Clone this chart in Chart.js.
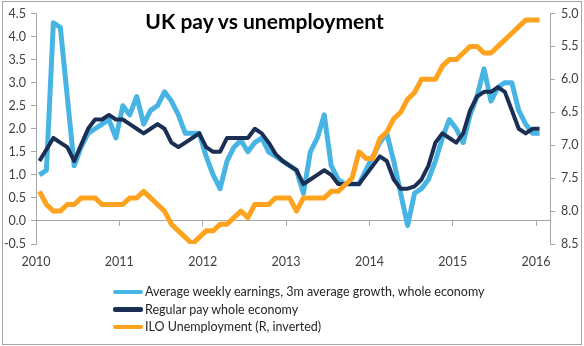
<!DOCTYPE html>
<html>
<head>
<meta charset="utf-8">
<script src="https://cdn.jsdelivr.net/npm/chart.js@4.4.1/dist/chart.umd.min.js"></script>
<style>
  html, body { margin: 0; padding: 0; background: #fff; }
  #wrap { position: relative; width: 584px; height: 346px; overflow: hidden; }
  #frame { position: absolute; left: 2px; top: 1px; width: 578px; height: 342px; border: 1px solid #a6a6a6; pointer-events: none; }
  #title { position: absolute; left: 0; width: 529px; top: 8px; text-align: center; font: bold 21px Lato, sans-serif; color: #000; }
  #legend { position: absolute; left: 113px; top: 283px; font: 12.5px Lato, sans-serif; color: #262626; }
  #legend .row { height: 17.5px; display: flex; align-items: center; white-space: nowrap; }
  #legend .swatch { display: inline-block; width: 30px; height: 4.5px; border-radius: 2px; margin-right: 2px; }
</style>
</head>
<body>
<div id="wrap">
  <canvas id="myChart" width="584" height="346"></canvas>
  <div id="title">UK pay vs unemployment</div>
  <div id="legend"></div>
  <div id="frame"></div>
</div>
<script>
// monthly series, Jan 2010 .. Jan 2016
var startYear = 2010;
var yearTicks = [2010, 2011, 2012, 2013, 2014, 2015, 2016];
var seriesNames = [
    'Average weekly earnings, 3m average growth, whole economy',
    'Regular pay whole economy',
    'ILO Unemployment (R, inverted)'
];
var aweGrowth = [
    1.0, 1.1, 4.3, 4.2, 2.7, 1.2, 1.6, 1.9, 2.0, 2.1, 2.2, 1.8,
    2.5, 2.3, 2.7, 2.1, 2.4, 2.5, 2.8, 2.6, 2.3, 1.9, 1.9, 1.9,
    1.4, 1.0, 0.7, 1.3, 1.6, 1.75, 1.5, 1.7, 1.8, 1.5, 1.4, 1.3,
    1.2, 1.1, 0.6, 1.5, 1.8, 2.3, 1.2, 0.9, 0.8, 0.8, 0.8, 1.1,
    1.4, 1.7, 1.9, 1.3, 0.6, -0.1, 0.6, 0.7, 0.9, 1.3, 1.8, 2.2,
    2.0, 1.7, 2.3, 2.7, 3.3, 2.6, 2.9, 3.0, 3.0, 2.4, 2.1, 1.9,
    1.9
];
var regularPay = [
    1.3, 1.55, 1.8, 1.7, 1.6, 1.3, 1.65, 2.0, 2.2, 2.2, 2.3, 2.2,
    2.2, 2.1, 2.0, 1.9, 2.0, 2.1, 2.0, 1.7, 1.6, 1.7, 1.8, 1.9,
    1.6, 1.5, 1.5, 1.8, 1.8, 1.8, 1.8, 2.0, 1.9, 1.7, 1.45, 1.3,
    1.2, 1.1, 0.8, 0.9, 1.0, 1.1, 1.0, 0.8, 0.8, 0.8, 0.8, 1.0,
    1.2, 1.4, 1.3, 0.9, 0.7, 0.7, 0.75, 0.9, 1.2, 1.7, 1.9, 1.8,
    1.7, 1.9, 2.4, 2.7, 2.8, 2.8, 2.9, 2.8, 2.4, 2.0, 1.9, 2.0,
    2.0
];
var unemployment = [
    7.7, 7.9, 8.0, 8.0, 7.9, 7.9, 7.8, 7.8, 7.8, 7.9, 7.9, 7.9,
    7.9, 7.8, 7.8, 7.7, 7.8, 7.9, 8.0, 8.2, 8.3, 8.4, 8.5, 8.4,
    8.3, 8.3, 8.2, 8.2, 8.1, 8.0, 8.1, 7.9, 7.9, 7.9, 7.8, 7.8,
    7.8, 8.0, 7.8, 7.8, 7.8, 7.8, 7.7, 7.7, 7.6, 7.5, 7.1, 7.2,
    7.2, 6.9, 6.8, 6.6, 6.5, 6.3, 6.2, 6.0, 6.0, 6.0, 5.8, 5.7,
    5.7, 5.6, 5.5, 5.5, 5.6, 5.6, 5.5, 5.4, 5.3, 5.2, 5.1, 5.1,
    5.1
];

// each point sits in the middle of its month
function toPoints(values) {
    return values.map(function (v, i) {
        return { x: startYear + (i + 0.5) / 12, y: v };
    });
}

var axisGrey = '#a6a6a6';
var tickFont = { family: 'Lato', size: 12.5 };
var xMax = 2016 + 2 / 12;

function setYears(scale) {
    scale.ticks = yearTicks.map(function (y) { return { value: y }; });
}

var ctx = document.getElementById('myChart').getContext('2d');
var chart = new Chart(ctx, {
    type: 'line',
    data: {
        datasets: [{
            label: seriesNames[0],
            data: toPoints(aweGrowth),
            borderColor: '#48b4e4',
            borderWidth: 5,
            yAxisID: 'y',
            order: 2
        }, {
            label: seriesNames[1],
            data: toPoints(regularPay),
            borderColor: '#1b2f55',
            borderWidth: 4,
            yAxisID: 'y',
            order: 1
        }, {
            label: seriesNames[2],
            data: toPoints(unemployment),
            borderColor: '#ffa31f',
            borderWidth: 5,
            yAxisID: 'y1',
            order: 0
        }]
    },
    options: {
        responsive: false,
        animation: false,
        events: [],
        layout: { padding: { top: 11, bottom: 72, left: 0, right: 0 } },
        elements: {
            point: { radius: 0 },
            line: { tension: 0, borderJoinStyle: 'round', fill: false }
        },
        plugins: {
            legend: { display: false },
            tooltip: { enabled: false }
        },
        scales: {
            // axis line at zero with the year tick marks
            x: {
                type: 'linear',
                position: { y: 0 },
                min: startYear,
                max: xMax,
                afterBuildTicks: setYears,
                afterFit: function (s) { s.height = 0; },
                ticks: { display: false },
                grid: { drawOnChartArea: false, drawTicks: true, tickLength: 5, color: axisGrey },
                border: { display: true, color: axisGrey }
            },
            // year labels under the plot
            x2: {
                type: 'linear',
                position: 'bottom',
                min: startYear,
                max: xMax,
                afterBuildTicks: setYears,
                afterFit: function (s) { s.height = 30; },
                ticks: {
                    font: tickFont,
                    color: '#404040',
                    padding: 10,
                    maxRotation: 0,
                    callback: function (v) { return String(v); }
                },
                grid: { display: false, drawTicks: false },
                border: { display: false }
            },
            y: {
                position: 'left',
                min: -0.5,
                max: 4.5,
                afterFit: function (s) { s.width = 36; },
                ticks: {
                    stepSize: 0.5,
                    font: tickFont,
                    color: '#404040',
                    padding: 5,
                    callback: function (v) { return v.toFixed(1); }
                },
                grid: { drawOnChartArea: false, tickLength: 5, color: axisGrey },
                border: { display: true, color: axisGrey }
            },
            y1: {
                position: 'right',
                reverse: true,
                min: 5,
                max: 8.5,
                afterFit: function (s) { s.width = 34; },
                ticks: {
                    stepSize: 0.5,
                    font: tickFont,
                    color: '#404040',
                    padding: 6,
                    callback: function (v) { return v.toFixed(1); }
                },
                grid: { drawOnChartArea: false, tickLength: 5, color: axisGrey },
                border: { display: true, color: axisGrey }
            }
        }
    }
});

// legend as a stacked list under the chart
var legendBox = document.getElementById('legend');
chart.data.datasets.forEach(function (ds) {
    var row = document.createElement('div');
    row.className = 'row';
    var sw = document.createElement('span');
    sw.className = 'swatch';
    sw.style.background = ds.borderColor;
    row.appendChild(sw);
    row.appendChild(document.createTextNode(ds.label));
    legendBox.appendChild(row);
});
</script>
</body>
</html>
